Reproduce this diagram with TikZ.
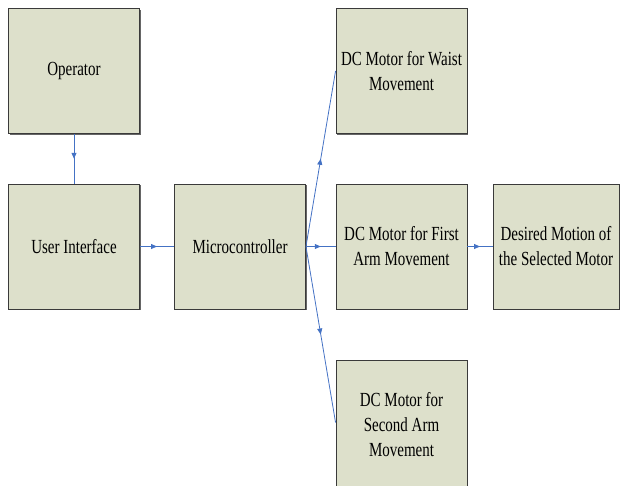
\documentclass[tikz,border=0pt]{standalone}
\usepackage{fontspec}
\setmainfont{Liberation Serif}[FakeStretch=0.75]
\usetikzlibrary{decorations.markings,shadows,arrows.meta}
\definecolor{boxfill}{HTML}{DDE0CB}
\definecolor{boxline}{HTML}{3A3A3A}
\definecolor{conn}{HTML}{4472C4}
\tikzset{
  blk/.style={draw=boxline, line width=0.9pt, fill=boxfill, minimum width=131pt, minimum height=125pt,
    inner sep=0pt, align=center, font=\fontsize{20pt}{25pt}\selectfont,
    drop shadow={shadow xshift=1pt, shadow yshift=-1pt, fill=black!60, opacity=1}},
  link/.style={draw=conn, line width=0.8pt, postaction={decorate},
    decoration={markings, mark=at position 0.5 with {\arrow{Triangle[length=6pt,width=5pt]}}}, color=conn}
}
\begin{document}
\begin{tikzpicture}[x=1pt,y=-1pt]
\useasboundingbox (0,0) rectangle (620,485);
\begin{scope}
\clip (0,0) rectangle (620,485);
\node[blk] (op) at (74,71) {Operator};
\node[blk] (ui) at (74,246.5) {User Interface};
\node[blk] (mc) at (240,246.5) {Microcontroller};
\node[blk] (wa) at (401.5,71) {DC Motor for Waist\\Movement};
\node[blk] (fa) at (401.5,246.5) {DC Motor for First\\Arm Movement};
\node[blk, minimum height=129pt] (sa) at (401.5,424.5) {DC Motor for\\Second Arm\\Movement};
\node[blk, minimum width=126pt] (dm) at (556,246.5) {Desired Motion of\\the Selected Motor};
\end{scope}
\draw[link] (op.south) -- (ui.north);
\draw[link] (ui.east) -- (mc.west);
\draw[link] (mc.east) -- (wa.west);
\draw[link] (mc.east) -- (fa.west);
\draw[link] (mc.east) -- ([yshift=2pt]sa.west);
\draw[link] (fa.east) -- (dm.west);
\end{tikzpicture}
\end{document}
